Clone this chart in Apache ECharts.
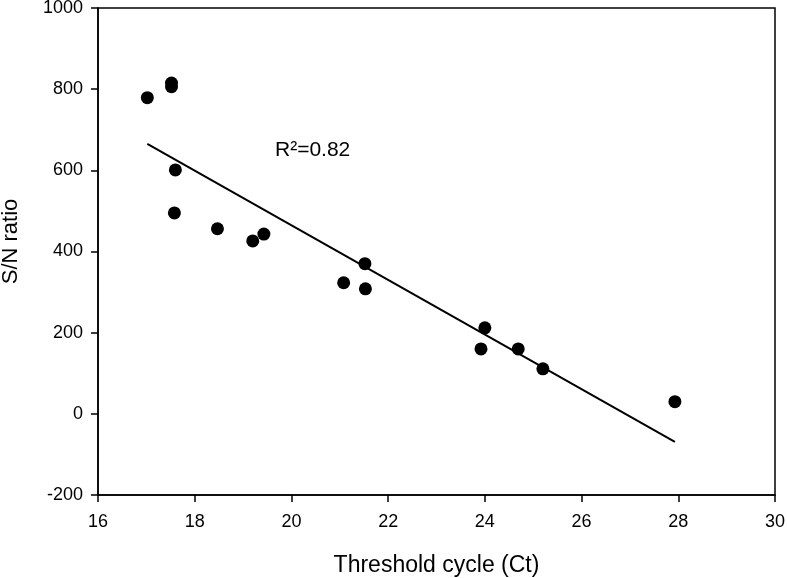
<!DOCTYPE html>
<html>
<head>
<meta charset="utf-8">
<script src="https://cdn.jsdelivr.net/npm/echarts@6/dist/echarts.min.js"></script>
<style>html,body{margin:0;padding:0;background:#fff}#c{width:787px;height:578px}</style>
</head>
<body>
<div id="c"></div>
<script>
const ctValues = [17.02, 17.52, 17.52, 17.6, 17.58, 18.47, 19.2, 19.43, 21.08, 21.52, 21.53, 23.92, 24.0, 24.69, 25.2, 27.93];
const snValues = [779, 815, 806, 601, 495, 456, 426, 443, 323, 370, 308, 160, 212, 160, 111, 30];
const fitX = [17.02, 27.93];
const fitY = [665, -69];
const xTicks = [16, 18, 20, 22, 24, 26, 28, 30];
const yTicks = [-200, 0, 200, 400, 600, 800, 1000];
const r2Text = 'R\u00B2=0.82';

const font = '"Liberation Sans", Arial, sans-serif';
const chart = echarts.init(document.getElementById('c'));
chart.setOption({
  animation: false,
  backgroundColor: '#fff',
  grid: { left: 98, top: 8, width: 677, height: 487, containLabel: false, outerBoundsMode: 'none',
          show: true, borderColor: '#000', borderWidth: 1.5, backgroundColor: 'transparent' },
  xAxis: {
    type: 'value', min: xTicks[0], max: xTicks[xTicks.length - 1], interval: 2,
    name: 'Threshold cycle (Ct)', nameLocation: 'middle', nameGap: 59,
    nameTextStyle: { fontFamily: font, fontSize: 23, color: '#000' },
    axisLine: { show: true, onZero: false, lineStyle: { color: '#000', width: 1.5 } },
    axisTick: { show: true, inside: false, length: 7, lineStyle: { color: '#000', width: 1.5 } },
    axisLabel: { fontFamily: font, fontSize: 18, color: '#000', margin: 18, formatter: v => String(v) },
    splitLine: { show: false }
  },
  yAxis: {
    type: 'value', min: yTicks[0], max: yTicks[yTicks.length - 1], interval: 200,
    name: 'S/N ratio', nameLocation: 'middle', nameGap: 76,
    nameTextStyle: { fontFamily: font, fontSize: 22, color: '#000', padding: [0, 0, 0, 20] },
    axisLine: { show: true, onZero: false, lineStyle: { color: '#000', width: 1.5 } },
    axisTick: { show: true, inside: false, length: 7, lineStyle: { color: '#000', width: 1.5 } },
    axisLabel: { fontFamily: font, fontSize: 18, color: '#000', margin: 15, formatter: v => String(v) },
    splitLine: { show: false }
  },
  graphic: [{
    type: 'text', left: 275, top: 140,
    style: { text: r2Text, fontFamily: font, fontSize: 21, fill: '#000' }
  }],
  series: [
    {
      type: 'line', data: fitX.map((x, i) => [x, fitY[i]]),
      showSymbol: false, symbol: 'none',
      lineStyle: { color: '#000', width: 2 }, z: 2
    },
    {
      type: 'scatter', data: ctValues.map((x, i) => [x, snValues[i]]),
      symbol: 'circle', symbolSize: 13,
      itemStyle: { color: '#000', opacity: 1 }, z: 3
    }
  ]
});
</script>
</body>
</html>
